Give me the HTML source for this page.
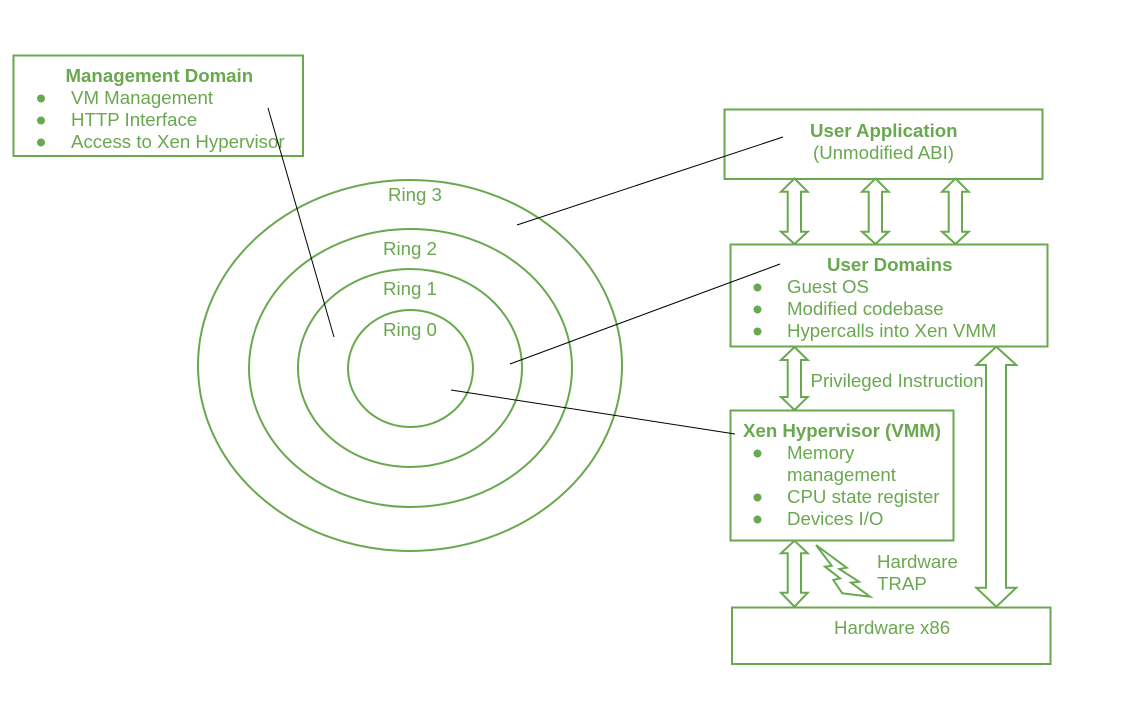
<!DOCTYPE html>
<html><head><meta charset="utf-8"><style>
html,body{margin:0;padding:0;background:#fff;width:1140px;height:713px;overflow:hidden}
svg{display:block}
text{font-family:"Liberation Sans",sans-serif;font-size:18.67px;fill:#6aa84f}
.b{font-weight:bold}
.s{fill:none;stroke:#6aa84f;stroke-width:2}
.f{fill:#fff;stroke:#6aa84f;stroke-width:2;stroke-linejoin:miter}
.k{stroke:#000;stroke-width:1;fill:none}
circle{fill:#6aa84f;stroke:none}
</style></head><body>
<svg width="1140" height="713" viewBox="0 0 1140 713" xmlns="http://www.w3.org/2000/svg">
<ellipse class="s" cx="410" cy="365.5" rx="212" ry="185.5"/>
<ellipse class="s" cx="410.5" cy="368" rx="161.5" ry="139"/>
<ellipse class="s" cx="410" cy="368" rx="112" ry="99"/>
<ellipse class="s" cx="410.5" cy="368.5" rx="62.5" ry="58.5"/>
<text x="388" y="201">Ring 3</text>
<text x="383" y="255">Ring 2</text>
<text x="383" y="295">Ring 1</text>
<text x="383" y="336">Ring 0</text>

<rect class="s" x="13.5" y="55.5" width="289.5" height="100.5"/>
<text class="b" x="65.5" y="82">Management Domain</text>
<circle cx="41" cy="98.500" r="4"/><text x="71" y="104">VM Management</text>
<circle cx="41" cy="120.500" r="4"/><text x="71" y="126">HTTP Interface</text>
<circle cx="41" cy="142.500" r="4"/><text x="71" y="148">Access to Xen Hypervisor</text>

<rect class="s" x="724.500" y="109.500" width="318" height="69.500"/>
<text class="b" x="810" y="137">User Application</text>
<text x="813" y="159">(Unmodified ABI)</text>

<rect class="s" x="730.500" y="244.500" width="317" height="102"/>
<text class="b" x="827" y="271">User Domains</text>
<circle cx="757.500" cy="287.500" r="4"/><text x="787" y="293">Guest OS</text>
<circle cx="757.500" cy="309.500" r="4"/><text x="787" y="315">Modified codebase</text>
<circle cx="757.500" cy="331.500" r="4"/><text x="787" y="337">Hypercalls into Xen VMM</text>

<rect class="s" x="730.500" y="410.500" width="223" height="130"/>
<text class="b" x="743" y="437">Xen Hypervisor (VMM)</text>
<circle cx="757.500" cy="453.500" r="4"/><text x="787" y="459">Memory</text>
<text x="787" y="481">management</text>
<circle cx="757.500" cy="497.500" r="4"/><text x="787" y="503">CPU state register</text>
<circle cx="757.500" cy="519.500" r="4"/><text x="787" y="525">Devices I/O</text>

<rect class="s" x="732" y="607.500" width="318.500" height="56.500"/>
<text x="834" y="634">Hardware x86</text>

<text x="810.500" y="387">Privileged Instruction</text>
<text x="877" y="568">Hardware</text>
<text x="877" y="590">TRAP</text>

<path class="f" d="M794.500 178.500L807.700 191.700H801V231.700H807.700L794.500 244L781 231.700H787.700V191.700H781Z"/>
<path class="f" d="M875.500 178.500L888.700 191.700H882V231.700H888.700L875.500 244L862 231.700H868.700V191.700H862Z"/>
<path class="f" d="M955.500 178.500L968.700 191.700H962V231.700H968.700L955.500 244L942 231.700H948.700V191.700H942Z"/>
<path class="f" d="M794.500 347L807.700 360H801V397H807.700L794.500 410L781 397H787.700V360H781Z"/>
<path class="f" d="M794.500 540.700L807.700 553.300H801V592.700H807.700L794.500 606.700L781 592.700H787.700V553.300H781Z"/>
<path class="f" d="M996.300 346.700L1016.300 365H1006V587.700H1016.300L996.300 606.700L976.300 587.700H986V365H976.300Z"/>
<path class="f" d="M816 545L846.700 567.700L839.300 569L859 581.700L851 582.700L870 596.700L842.300 593.300L833.300 580L840 578.300L825 566.700L831.700 565.700Z"/>

<line class="k" x1="268" y1="108" x2="334" y2="337"/>
<line class="k" x1="517" y1="225" x2="783" y2="137"/>
<line class="k" x1="510" y1="364" x2="780" y2="264"/>
<line class="k" x1="451" y1="390" x2="735" y2="434"/>
</svg>
</body></html>
